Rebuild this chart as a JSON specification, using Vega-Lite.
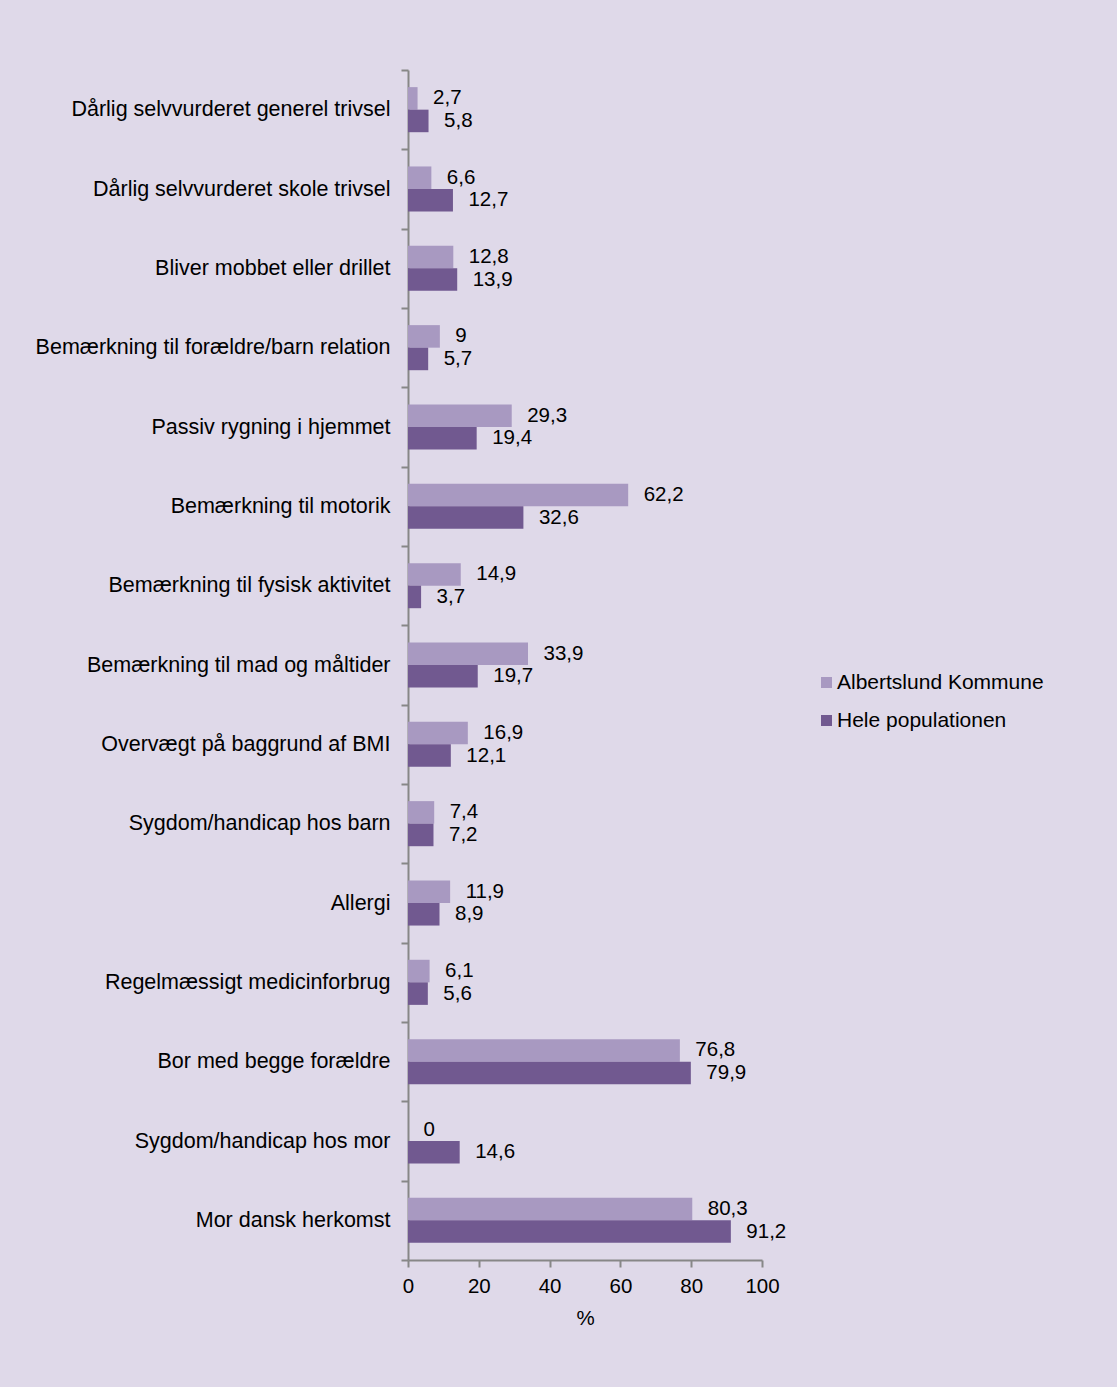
{
  "$schema": "https://vega.github.io/schema/vega-lite/v6.json",
  "width": 354,
  "height": 1190,
  "autosize": {"type": "none"},
  "padding": {"left": 408, "top": 70, "right": 355, "bottom": 127},
  "background": "#DFD9E9",
  "config": {
    "view": {"stroke": null},
    "font": "Liberation Sans",
    "axis": {"labelFont": "Liberation Sans", "titleFont": "Liberation Sans", "labelColor": "#000000", "titleColor": "#000000", "domainColor": "#878787", "tickColor": "#878787", "domainWidth": 2, "tickWidth": 2, "tickSize": 7, "labelFontSize": 20.5, "titleFontSize": 20.5, "titleFontWeight": "normal", "grid": false},
    "legend": {"labelFont": "Liberation Sans", "labelFontSize": 21, "labelColor": "#000000"}
  },
  "data": {
    "values": [
      {"kategori": "Dårlig selvvurderet generel trivsel", "serie": "Albertslund Kommune", "pct": 2.7, "label": "2,7"},
      {"kategori": "Dårlig selvvurderet generel trivsel", "serie": "Hele populationen", "pct": 5.8, "label": "5,8"},
      {"kategori": "Dårlig selvvurderet skole trivsel", "serie": "Albertslund Kommune", "pct": 6.6, "label": "6,6"},
      {"kategori": "Dårlig selvvurderet skole trivsel", "serie": "Hele populationen", "pct": 12.7, "label": "12,7"},
      {"kategori": "Bliver mobbet eller drillet", "serie": "Albertslund Kommune", "pct": 12.8, "label": "12,8"},
      {"kategori": "Bliver mobbet eller drillet", "serie": "Hele populationen", "pct": 13.9, "label": "13,9"},
      {"kategori": "Bemærkning til forældre/barn relation", "serie": "Albertslund Kommune", "pct": 9, "label": "9"},
      {"kategori": "Bemærkning til forældre/barn relation", "serie": "Hele populationen", "pct": 5.7, "label": "5,7"},
      {"kategori": "Passiv rygning i hjemmet", "serie": "Albertslund Kommune", "pct": 29.3, "label": "29,3"},
      {"kategori": "Passiv rygning i hjemmet", "serie": "Hele populationen", "pct": 19.4, "label": "19,4"},
      {"kategori": "Bemærkning til motorik", "serie": "Albertslund Kommune", "pct": 62.2, "label": "62,2"},
      {"kategori": "Bemærkning til motorik", "serie": "Hele populationen", "pct": 32.6, "label": "32,6"},
      {"kategori": "Bemærkning til fysisk aktivitet", "serie": "Albertslund Kommune", "pct": 14.9, "label": "14,9"},
      {"kategori": "Bemærkning til fysisk aktivitet", "serie": "Hele populationen", "pct": 3.7, "label": "3,7"},
      {"kategori": "Bemærkning til mad og måltider", "serie": "Albertslund Kommune", "pct": 33.9, "label": "33,9"},
      {"kategori": "Bemærkning til mad og måltider", "serie": "Hele populationen", "pct": 19.7, "label": "19,7"},
      {"kategori": "Overvægt på baggrund af BMI", "serie": "Albertslund Kommune", "pct": 16.9, "label": "16,9"},
      {"kategori": "Overvægt på baggrund af BMI", "serie": "Hele populationen", "pct": 12.1, "label": "12,1"},
      {"kategori": "Sygdom/handicap hos barn", "serie": "Albertslund Kommune", "pct": 7.4, "label": "7,4"},
      {"kategori": "Sygdom/handicap hos barn", "serie": "Hele populationen", "pct": 7.2, "label": "7,2"},
      {"kategori": "Allergi", "serie": "Albertslund Kommune", "pct": 11.9, "label": "11,9"},
      {"kategori": "Allergi", "serie": "Hele populationen", "pct": 8.9, "label": "8,9"},
      {"kategori": "Regelmæssigt medicinforbrug", "serie": "Albertslund Kommune", "pct": 6.1, "label": "6,1"},
      {"kategori": "Regelmæssigt medicinforbrug", "serie": "Hele populationen", "pct": 5.6, "label": "5,6"},
      {"kategori": "Bor med begge forældre", "serie": "Albertslund Kommune", "pct": 76.8, "label": "76,8"},
      {"kategori": "Bor med begge forældre", "serie": "Hele populationen", "pct": 79.9, "label": "79,9"},
      {"kategori": "Sygdom/handicap hos mor", "serie": "Albertslund Kommune", "pct": 0, "label": "0"},
      {"kategori": "Sygdom/handicap hos mor", "serie": "Hele populationen", "pct": 14.6, "label": "14,6"},
      {"kategori": "Mor dansk herkomst", "serie": "Albertslund Kommune", "pct": 80.3, "label": "80,3"},
      {"kategori": "Mor dansk herkomst", "serie": "Hele populationen", "pct": 91.2, "label": "91,2"}
    ]
  },
  "encoding": {
    "y": {
      "field": "kategori", "type": "nominal", "sort": null,
      "scale": {"paddingInner": 0, "paddingOuter": 0},
      "axis": {"title": null, "tickBand": "extent", "labelPadding": 11, "labelLimit": 400, "labelFontSize": 21.5}
    },
    "yOffset": {
      "field": "serie", "type": "nominal", "sort": ["Albertslund Kommune", "Hele populationen"],
      "scale": {"paddingInner": 0, "paddingOuter": 0.76}
    }
  },
  "layer": [
    {
      "mark": {"type": "bar"},
      "encoding": {
        "x": {
          "field": "pct", "type": "quantitative",
          "scale": {"domain": [0, 100], "nice": false},
          "axis": {"title": "%", "values": [0, 20, 40, 60, 80, 100], "labelPadding": 9, "titlePadding": 12, "labelFlush": false}
        },
        "color": {
          "field": "serie", "type": "nominal",
          "scale": {"domain": ["Albertslund Kommune", "Hele populationen"], "range": ["#A899C1", "#715990"]},
          "legend": {"title": null, "orient": "none", "legendX": 408, "legendY": 602, "symbolType": "square", "symbolSize": 121, "rowPadding": 16, "labelOffset": 0, "padding": 0, "symbolStrokeWidth": 0, "labelLimit": 400}
        }
      }
    },
    {
      "mark": {"type": "text", "align": "left", "baseline": "middle", "dx": 15.5, "fontSize": 20.5, "font": "Liberation Sans", "color": "#000000"},
      "encoding": {
        "x": {"field": "pct", "type": "quantitative"},
        "text": {"field": "label", "type": "nominal"}
      }
    }
  ]
}
